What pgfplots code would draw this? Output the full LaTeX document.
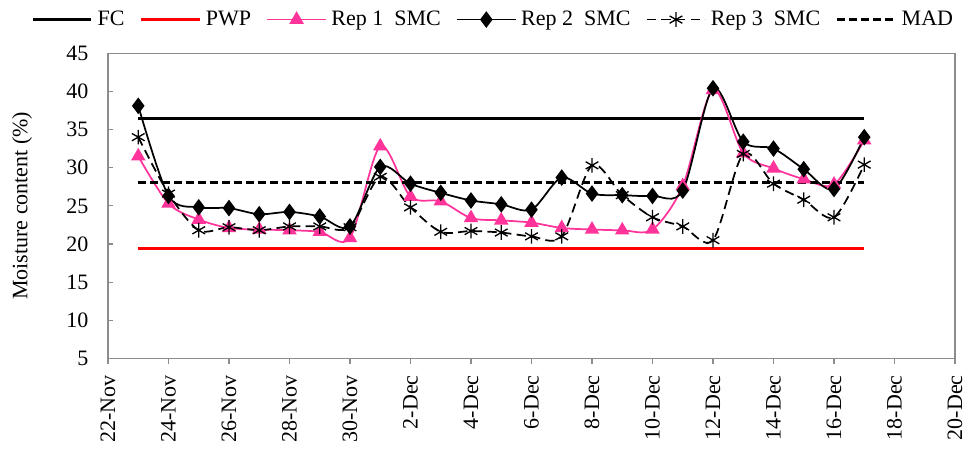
\documentclass[border=0pt]{standalone}
\usepackage{fontspec}
\setmainfont{Liberation Serif}
\usepackage{pgfplots}
\pgfplotsset{compat=1.18}
\definecolor{pinkc}{HTML}{FF3399}
\definecolor{axgray}{HTML}{8C8C8C}

\pgfplotstableread{
d rep1 rep2 rep3
1 31.5 38.1 34.0
2 25.3 26.3 26.6
3 23.2 24.8 21.8
4 22.1 24.7 22.2
5 21.9 23.9 21.8
6 21.8 24.2 22.3
7 21.6 23.6 22.3
8 20.8 22.3 22.2
9 32.8 30.1 28.8
10 26.2 27.9 24.8
11 25.6 26.7 21.6
12 23.4 25.7 21.7
13 23.1 25.2 21.5
14 22.8 24.5 21.0
15 22.1 28.7 21.0
16 21.9 26.6 30.3
17 21.8 26.4 26.4
18 21.9 26.3 23.5
19 27.6 27.0 22.3
20 40.2 40.4 20.5
21 31.9 33.4 31.8
22 29.9 32.5 27.9
23 28.5 29.8 25.8
24 27.8 27.2 23.5
25 33.6 34.0 30.4
}\datatable

\begin{document}
\fontsize{16.5}{19}\selectfont
\begin{tikzpicture}
\begin{axis}[
  scale only axis,
  width=635.25pt, height=229pt,
  xmin=0, xmax=28, ymin=5, ymax=45,
  xtick={0,2,...,28},
  xticklabels={22-Nov,24-Nov,26-Nov,28-Nov,30-Nov,2-Dec,4-Dec,6-Dec,8-Dec,10-Dec,12-Dec,14-Dec,16-Dec,18-Dec,20-Dec},
  ytick={5,10,...,45},
  /pgf/number format/assume math mode=true,
  tick label style={font=\fontsize{16.5}{19}\selectfont},
  x tick label style={yshift=-7pt, rotate=90, anchor=east},
  y tick label style={xshift=-9pt},
  xtick pos=bottom, ytick pos=left,
  major tick length=4pt,
  x tick style={yshift=-4pt},
  axis line style={axgray, line width=0.9pt},
  tick style={axgray, line width=0.9pt},
  ylabel={Moisture content (\%)},
  ylabel style={at={(axis description cs:-0.1015,0.5)}, anchor=center, font=\fontsize{16.5}{19}\selectfont},
  legend columns=6,
  legend style={draw=none, fill=none, at={(axis description cs:0.4536,1.11)}, anchor=center,
    inner xsep=0pt,
    font=\fontsize{16.5}{19}\selectfont,
    nodes={inner sep=0pt, text depth=0.15em},
    /tikz/every odd column/.append style={column sep=3.5pt},
    /tikz/every even column/.append style={column sep=11.4pt}},
  legend image code/.code={\draw[mark repeat=2,mark phase=2,#1] plot coordinates {(0pt,0pt) (22pt,0pt) (44pt,0pt)};},
]
\addplot[black, line width=2.2pt] coordinates {(1,36.4) (25,36.4)};
\addlegendentry{FC}
\addplot[red, line width=2.2pt] coordinates {(1,19.45) (25,19.45)};
\addlegendentry{PWP}
\addplot[pinkc, line width=1.3pt, smooth, tension=0.5, mark=triangle*, mark size=5pt, mark options={fill=pinkc, draw=pinkc}] table[x=d, y=rep1] {\datatable};
\addlegendentry{Rep 1\ \ SMC}
\addplot[black, line width=1.3pt, smooth, tension=0.5, mark=diamond*, mark size=5.2pt, mark options={fill=black}] table[x=d, y=rep2] {\datatable};
\addlegendentry{Rep 2\ \ SMC}
\addplot[black, line width=1.3pt, dash pattern=on 7pt off 4pt, smooth, tension=0.5, mark=asterisk, mark size=5.5pt, mark options={solid, line width=1pt}] table[x=d, y=rep3] {\datatable};
\addlegendentry{Rep 3\ \ SMC}
\addplot[black, line width=2.2pt, dash pattern=on 6pt off 3pt] coordinates {(1,28.0) (25,28.0)};
\addlegendentry{MAD}
\end{axis}
\path[use as bounding box] (-81pt,-63.375pt) rectangle (653.25pt,268.875pt);
\end{tikzpicture}
\end{document}
